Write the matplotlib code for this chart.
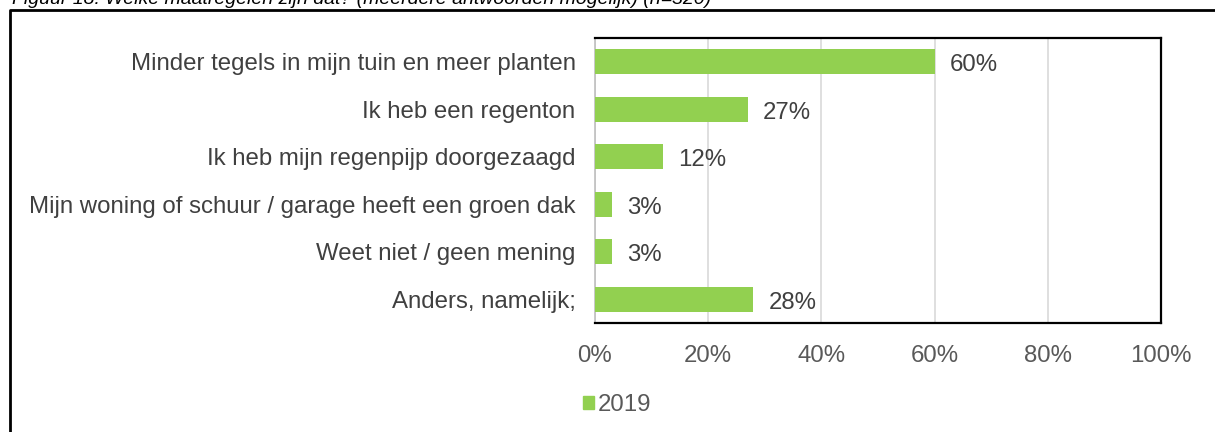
import matplotlib
matplotlib.use("Agg")
import matplotlib.pyplot as plt
from matplotlib.lines import Line2D
from matplotlib.ticker import PercentFormatter

categories = [
    "Minder tegels in mijn tuin en meer planten",
    "Ik heb een regenton",
    "Ik heb mijn regenpijp doorgezaagd",
    "Mijn woning of schuur / garage heeft een groen dak",
    "Weet niet / geen mening",
    "Anders, namelijk;",
]
values = [60, 27, 12, 3, 3, 28]
value_labels = ["60%", "27%", "12%", "3%", "3%", "28%"]
series_name = "2019"
xticks = [0, 20, 40, 60, 80, 100]
title = "Figuur 18: Welke maatregelen zijn dat? (meerdere antwoorden mogelijk) (n=320)"

plt.rcParams["font.family"] = ["Liberation Sans", "DejaVu Sans"]
W, H = 1215, 432
fig = plt.figure(figsize=(W / 100, H / 100), dpi=100)
fig.patch.set_facecolor("white")

ax = fig.add_axes([595 / W, 1 - 323 / H, (1161 - 595) / W, (323 - 38) / H])
green = "#92D050"
fs = 17.3
ypos = list(range(len(categories)))
ax.barh(ypos, values, height=0.53, color=green, zorder=3, label=series_name)
ax.set_ylim(len(categories) - 0.5, -0.5)
ax.set_xlim(0, 100)
ax.set_yticks(ypos)
ax.set_yticklabels(categories, fontsize=fs, color="#404040")
ax.set_xticks(xticks)
ax.xaxis.set_major_formatter(PercentFormatter(decimals=0))
ax.tick_params(axis="x", labelsize=fs, labelcolor="#595959", length=0, pad=16)
ax.tick_params(axis="y", length=0, pad=14)
ax.grid(axis="x", color="#D9D9D9", linewidth=1.2, zorder=0)
for s in ["top", "right", "bottom"]:
    ax.spines[s].set_color("black")
    ax.spines[s].set_linewidth(1.6)
ax.spines["left"].set_color("#BFBFBF")
ax.spines["left"].set_linewidth(1.2)

for y, v, lab in zip(ypos, values, value_labels):
    ax.annotate(lab, xy=(v, y), xytext=(11, -2.5), textcoords="offset points",
                ha="left", va="center", fontsize=fs, color="#404040")

# Legend
handles = [plt.Rectangle((0, 0), 1, 1, color=green)]
fig.legend(handles, [series_name], loc="center left",
           bbox_to_anchor=(583 / W, 1 - 405 / H), frameon=False,
           fontsize=fs, labelcolor="#595959", handlelength=0.45, handleheight=0.45,
           handletextpad=0.15, borderaxespad=0, borderpad=0)

# Outer frame (left and top only visible)
fig.add_artist(Line2D([10 / W, 10 / W, 1.0], [0.0, 1 - 9.5 / H, 1 - 9.5 / H],
                      transform=fig.transFigure, color="black", linewidth=2))

# Title, cut off at the top edge as in the reference
fig.text(12 / W, 1 - 4 / H, title, fontsize=14, style="italic", color="black",
         ha="left", va="baseline")

fig.savefig("out.png", dpi=100, facecolor="white")
